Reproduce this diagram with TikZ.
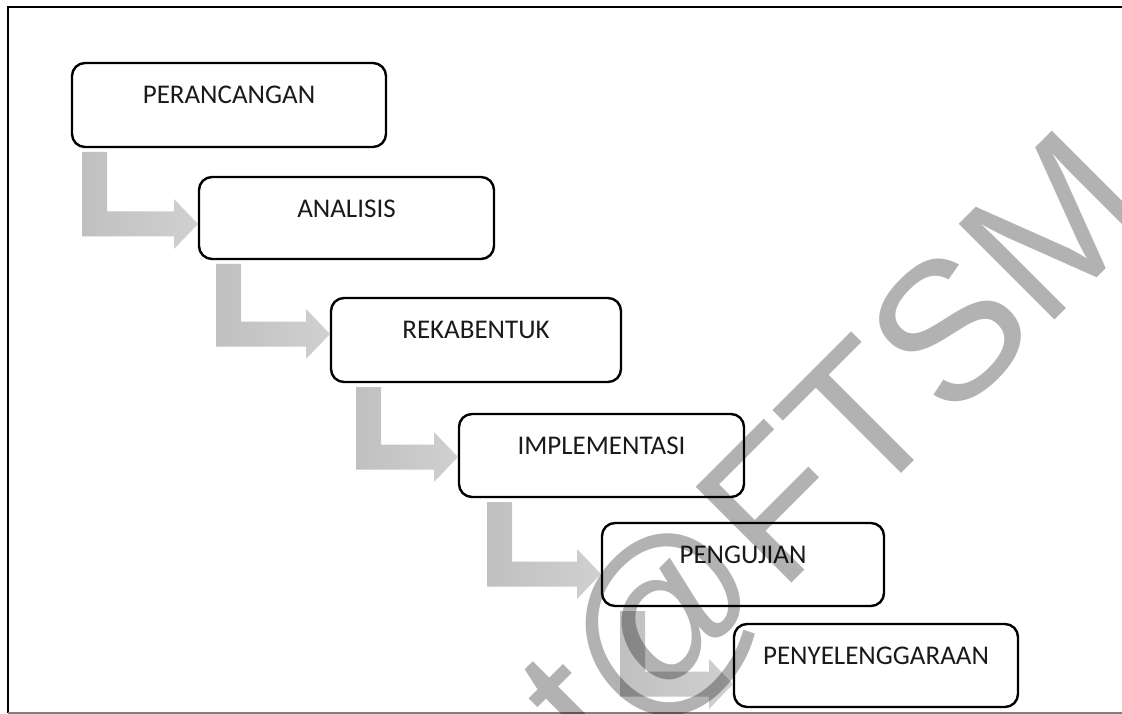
\documentclass[tikz,border=0pt]{standalone}
\usepackage{fontspec}
\setmainfont{Carlito}
\newfontfamily\wmfont{Liberation Sans}
\usetikzlibrary{calc}
\definecolor{arrL}{HTML}{C0C0C0}
\definecolor{arrR}{HTML}{D0D0D0}
\definecolor{txt}{HTML}{1A1A1A}
\newcommand\stepnode[6]{%
  \node[stepbox, minimum width={#4-#2}, minimum height={#5-#3}] (#1) at ({(#2+#4)/2},{(#3+#5)/2}) {};
  \node[lbl] (#1t) at ([yshift=-31.5pt]#1.north) {#6};
}
\newcommand\flowarrow[4]{%
  \path[arrowshade] let \p1=(#1.south west), \p2=(#2.north west) in
    (\x1+#3pt, \y1-5pt) -- (\x1+#3pt+25pt, \y1-5pt)
    -- (\x1+#3pt+25pt, \y2-#4pt+12.5pt) -- (\x2-25pt, \y2-#4pt+12.5pt)
    -- (\x2-25pt, \y2-#4pt+25pt) -- (\x2-1pt, \y2-#4pt)
    -- (\x2-25pt, \y2-#4pt-25pt) -- (\x2-25pt, \y2-#4pt-12.5pt)
    -- (\x1+#3pt, \y2-#4pt-12.5pt) -- cycle;
}
\begin{document}
\begin{tikzpicture}[x=1pt,y=-1pt,
  stepbox/.style={draw=black, line width=2.4pt, rounded corners=13pt, fill=white, inner sep=0pt, outer sep=0pt},
  lbl/.style={inner sep=0pt, text=txt, font=\fontsize{27}{32}\selectfont},
  arrowshade/.style={left color=arrL, right color=arrR, draw=none},
  wm/.style={anchor=base west, inner sep=0pt, rotate=45, text=black, text opacity=0.3, font=\wmfont\fontsize{197}{197}\selectfont}]
\useasboundingbox (0,0) rectangle (1122,714);
\fill[white] (0,0) rectangle (1122,714);
% frame
\coordinate (fTL) at (8,7);
\coordinate (fTR) at (1122,7);
\coordinate (fBL) at (8,713);
\coordinate (fBR) at (1122,713);
\draw[line width=2.5pt] (fTR) -- (fTL) -- (fBL);
\draw[gray, line width=2pt] (fBL) -- (fBR);
% boxes
\stepnode{b1}{72}{63}{386}{147}{PERANCANGAN}
\stepnode{b2}{199}{177}{494}{259}{ANALISIS}
\stepnode{b3}{331}{298}{621}{382}{REKABENTUK}
\stepnode{b4}{459}{414}{744}{497}{IMPLEMENTASI}
\stepnode{b5}{602}{523}{884}{606}{PENGUJIAN}
\stepnode{b6}{734}{624}{1018}{707}{PENYELENGGARAAN}
% arrows
\flowarrow{b1}{b2}{10}{47}
\flowarrow{b2}{b3}{17}{36}
\flowarrow{b3}{b4}{25}{43}
\flowarrow{b4}{b5}{28}{51}
\flowarrow{b5}{b6}{18}{60}
% watermark
\begin{scope}
\clip (0,0) rectangle (1122,714);
\node[wm] (mark) at (600,775) {t@FTSM};
\end{scope}
\end{tikzpicture}
\end{document}
